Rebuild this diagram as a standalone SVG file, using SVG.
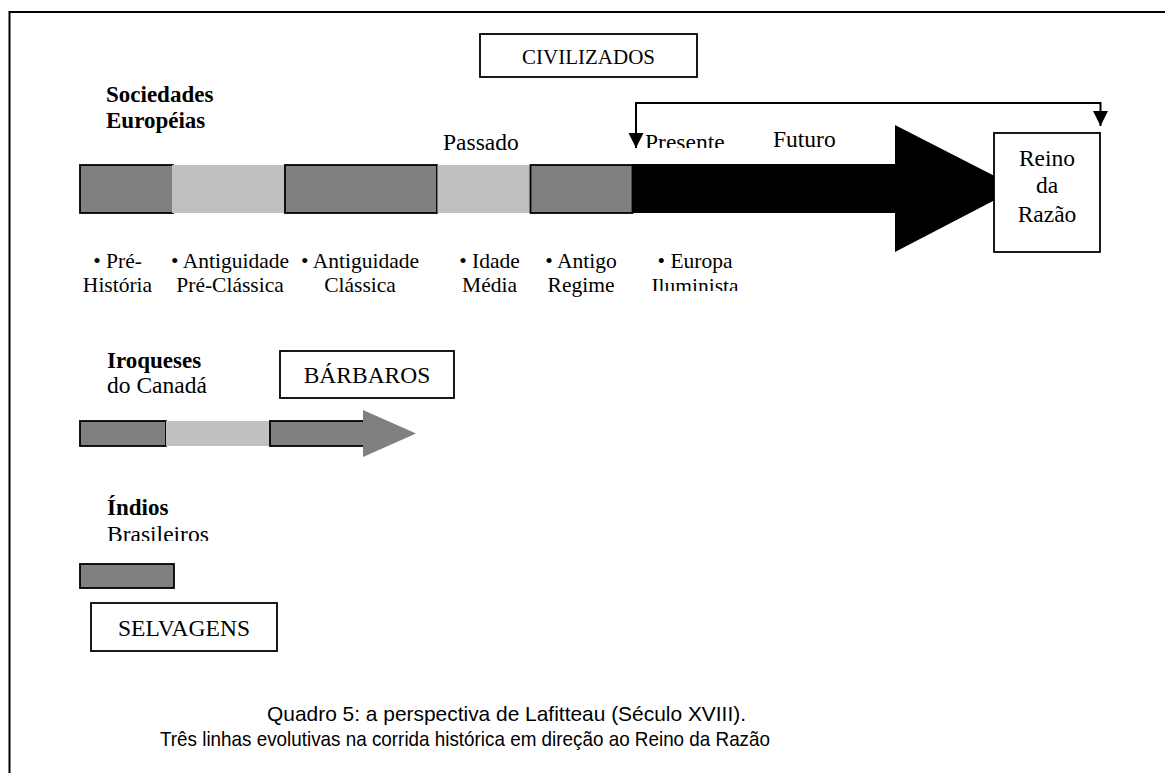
<svg xmlns="http://www.w3.org/2000/svg" width="1165" height="773" viewBox="0 0 1165 773">
<style>
.t{font-family:"Liberation Serif","Times New Roman",serif;fill:#000}
.h{font-size:23px;font-weight:bold}
.r{font-size:23.5px}
.l{font-size:21.5px}
.c{font-family:"Liberation Sans",Arial,sans-serif;font-size:21px;fill:#000}
.dark{fill:#808080;stroke:#000;stroke-width:1.8}
.light{fill:#c0c0c0}
.box{fill:#fff;stroke:#000;stroke-width:1.8}
.conn{fill:none;stroke:#000;stroke-width:2}
</style>
<defs>
<marker id="ah" markerUnits="userSpaceOnUse" markerWidth="16" markerHeight="16" refX="15" refY="7.5" orient="auto">
<path d="M0,0 L15,7.5 L0,15 z" fill="#000"/>
</marker>
<clipPath id="clipPres"><rect x="600" y="100" width="200" height="48"/></clipPath>
<clipPath id="clipIlum"><rect x="600" y="270" width="200" height="21"/></clipPath>
<clipPath id="clipBras"><rect x="90" y="520" width="200" height="21"/></clipPath>
</defs>
<rect width="1165" height="773" fill="#fff"/>
<g id="frame">
<path d="M9.5,773 V12 H1165" fill="none" stroke="#000" stroke-width="2"/>
</g>
<g id="civilizados">
<rect class="box" x="480" y="34" width="217" height="43"/>
<text class="t" x="588.5" y="64" font-size="21" text-anchor="middle">CIVILIZADOS</text>
</g>
<g id="europeias-label">
<text class="t h" x="106" y="101.5">Sociedades</text>
<text class="t h" x="106" y="128">Européias</text>
</g>
<g id="europeias-bar">
<rect class="dark" x="80" y="165" width="93" height="48"/>
<rect class="light" x="172" y="165" width="113" height="48"/>
<rect class="dark" x="285" y="165" width="152" height="48"/>
<rect class="light" x="437.5" y="165" width="93" height="48"/>
<rect class="dark" x="530.5" y="165" width="102" height="48"/>
<path d="M632,164 H895 V125 L1018,188 L895,252 V213 H632 Z" fill="#000"/>
</g>
<g id="time-labels">
<text class="t r" x="443" y="150">Passado</text>
<text class="t r" x="645" y="150" clip-path="url(#clipPres)">Presente</text>
<text class="t r" x="773" y="147">Futuro</text>
</g>
<g id="reino">
<rect class="box" x="994" y="133" width="106" height="119"/>
<text class="t r" x="1047" y="166" text-anchor="middle">Reino</text>
<text class="t r" x="1047" y="193" text-anchor="middle">da</text>
<text class="t r" x="1047" y="222" text-anchor="middle">Razão</text>
</g>
<g id="connectors">
<path class="conn" d="M636,148 V103 H1100.5 V126" marker-end="url(#ah)"/>
<path class="conn" d="M636,120 V148" marker-end="url(#ah)"/>
</g>
<g id="periods">
<text class="t l" x="117.5" y="268" text-anchor="middle">• Pré-</text>
<text class="t l" x="117.5" y="292" text-anchor="middle">História</text>
<text class="t l" x="230" y="268" text-anchor="middle">• Antiguidade</text>
<text class="t l" x="230" y="292" text-anchor="middle">Pré-Clássica</text>
<text class="t l" x="360" y="268" text-anchor="middle">• Antiguidade</text>
<text class="t l" x="360" y="292" text-anchor="middle">Clássica</text>
<text class="t l" x="489.5" y="268" text-anchor="middle">• Idade</text>
<text class="t l" x="489.5" y="292" text-anchor="middle">Média</text>
<text class="t l" x="581" y="268" text-anchor="middle">• Antigo</text>
<text class="t l" x="581" y="292" text-anchor="middle">Regime</text>
<text class="t l" x="695" y="268" text-anchor="middle">• Europa</text>
<text class="t l" x="695" y="293" text-anchor="middle" clip-path="url(#clipIlum)">Iluminista</text>
</g>
<g id="iroqueses">
<text class="t h" x="107" y="368">Iroqueses</text>
<text class="t r" x="107" y="393">do Canadá</text>
<rect class="dark" x="80" y="421" width="86" height="25"/>
<rect class="light" x="166" y="421" width="104" height="25"/>
<rect class="dark" x="270" y="421" width="100" height="25"/>
<path d="M363,410 L416,433.5 L363,457 Z" fill="#808080"/>
</g>
<g id="barbaros">
<rect class="box" x="280" y="351" width="174" height="47"/>
<text class="t r" x="367" y="383" text-anchor="middle">BÁRBAROS</text>
</g>
<g id="indios">
<text class="t h" x="107" y="515">Índios</text>
<text class="t r" x="107" y="542" clip-path="url(#clipBras)">Brasileiros</text>
<rect class="dark" x="80" y="564" width="94" height="24"/>
</g>
<g id="selvagens">
<rect class="box" x="91" y="603" width="186" height="48"/>
<text class="t r" x="184" y="636" text-anchor="middle">SELVAGENS</text>
</g>
<g id="caption">
<text class="c" x="267" y="721" textLength="479" lengthAdjust="spacingAndGlyphs">Quadro 5: a perspectiva de Lafitteau (Século XVIII).</text>
<text class="c" x="160" y="746" textLength="610" lengthAdjust="spacingAndGlyphs">Três linhas evolutivas na corrida histórica em direção ao Reino da Razão</text>
</g>
</svg>
